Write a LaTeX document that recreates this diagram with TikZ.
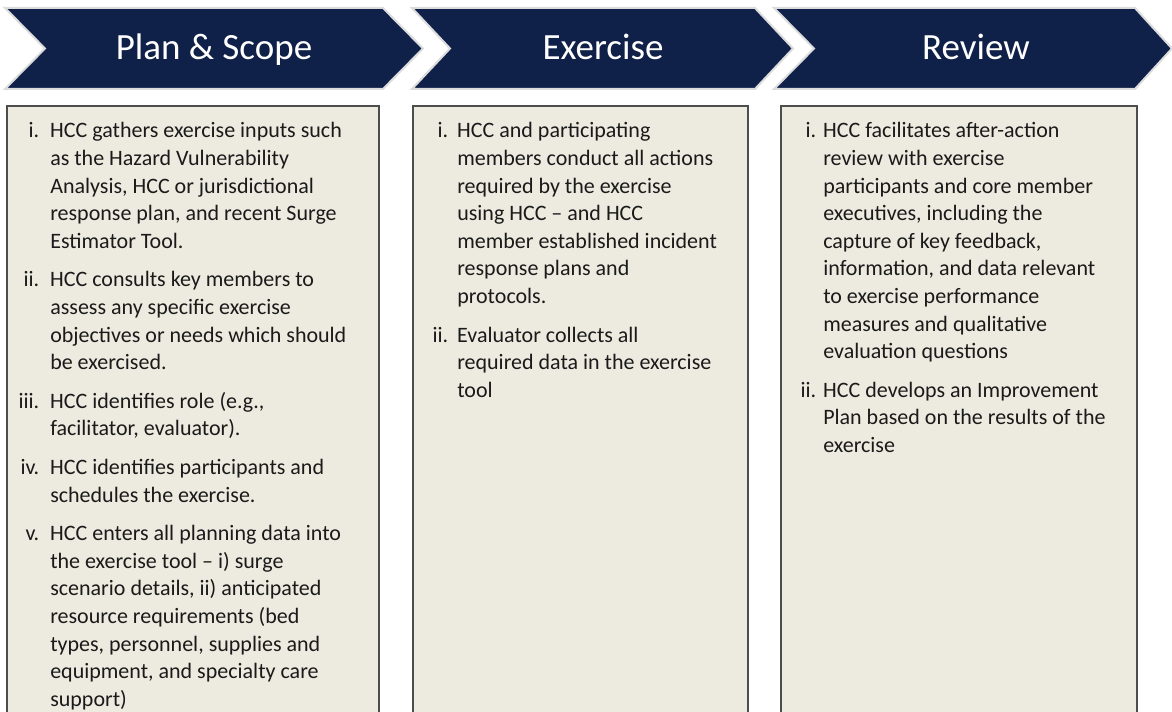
\documentclass[tikz,border=0pt]{standalone}
\usepackage{fontspec}
\setmainfont{Carlito}
\definecolor{navy}{HTML}{0F2049}
\definecolor{boxfill}{HTML}{EDEBE0}
\definecolor{boxline}{HTML}{4D4D4D}
\definecolor{chevline}{HTML}{DCDCDC}
\definecolor{bodyink}{HTML}{1A1A1A}
\newlength\pxu \setlength\pxu{0.75pt}
\newlength\hind \newlength\hgap
\newcommand\hitem[1]{\par\noindent\hangindent=\hind\hangafter=1\hbox to\hind{\hfill#1\hspace*{\hgap}}\ignorespaces}
\newcommand\bodyset[2]{\setlength\hind{#1\pxu}\setlength\hgap{#2\pxu}\fontsize{16.5}{20.7}\selectfont\raggedright\setlength\parskip{8.25pt}}
\tikzset{
  chev/.style={fill=navy, draw=chevline, line width=1.5pt, line join=miter},
  title/.style={text=white, font=\fontsize{27.75}{33}\selectfont, inner sep=0, anchor=base},
  panel/.style={fill=boxfill},
  panelline/.style={draw=boxline, line width=1.5pt},
  bodytext/.style={anchor=base west, inner sep=0, text=bodyink}
}
\begin{document}
\begin{tikzpicture}[x=0.75pt,y=-0.75pt]
\useasboundingbox (0,0) rectangle (1172,712);
% chevrons
\draw[chev] (5,8) -- (383,8) -- (423,48.5) -- (383,89) -- (5,89) -- (45,48.5) -- cycle;
\draw[chev] (412,8) -- (755,8) -- (793,48.5) -- (755,89) -- (412,89) -- (450,48.5) -- cycle;
\draw[chev] (774,8) -- (1135,8) -- (1172,48.5) -- (1135,89) -- (774,89) -- (814,48.5) -- cycle;
\node[title] (t1) at (214,60) {Plan \& Scope};
\node[title] (t2) at (603,60) {Exercise};
\node[title] (t3) at (976,60) {Review};
% panels
\fill[panel] (7,106) rectangle (379,712);
\draw[panelline] (7,712) -- (7,106) -- (379,106) -- (379,712);
\fill[panel] (413,106) rectangle (748,712);
\draw[panelline] (413,712) -- (413,106) -- (748,106) -- (748,712);
\fill[panel] (781,106) rectangle (1137,712);
\draw[panelline] (781,712) -- (781,106) -- (1137,106) -- (1137,712);
% texts
\node[bodytext] (b1) at (7,138) {\begin{minipage}[t]{372\pxu}\bodyset{43}{11}%
\hitem{i.}HCC gathers exercise inputs such\newline as the Hazard Vulnerability\newline Analysis, HCC or jurisdictional\newline response plan, and recent Surge\newline Estimator Tool.
\hitem{ii.}HCC consults key members to\newline assess any specific exercise\newline objectives or needs which should\newline be exercised.
\hitem{iii.}HCC identifies role (e.g.,\newline facilitator, evaluator).
\hitem{iv.}HCC identifies participants and\newline schedules the exercise.
\hitem{v.}HCC enters all planning data into\newline the exercise tool -- i) surge\newline scenario details, ii) anticipated\newline resource requirements (bed\newline types, personnel, supplies and\newline equipment, and specialty care\newline support)
\end{minipage}};
\node[bodytext] (b2) at (413,138) {\begin{minipage}[t]{335\pxu}\bodyset{44}{9}%
\hitem{i.}HCC and participating\newline members conduct all actions\newline required by the exercise\newline using HCC -- and HCC\newline member established incident\newline response plans and\newline protocols.
\hitem{ii.}Evaluator collects all\newline required data in the exercise\newline tool
\end{minipage}};
\node[bodytext] (b3) at (781,138) {\begin{minipage}[t]{356\pxu}\bodyset{42}{7}%
\hitem{i.}HCC facilitates after-action\newline review with exercise\newline participants and core member\newline executives, including the\newline capture of key feedback,\newline information, and data relevant\newline to exercise performance\newline measures and qualitative\newline evaluation questions
\hitem{ii.}HCC develops an Improvement\newline Plan based on the results of the\newline exercise
\end{minipage}};
\end{tikzpicture}
\end{document}
